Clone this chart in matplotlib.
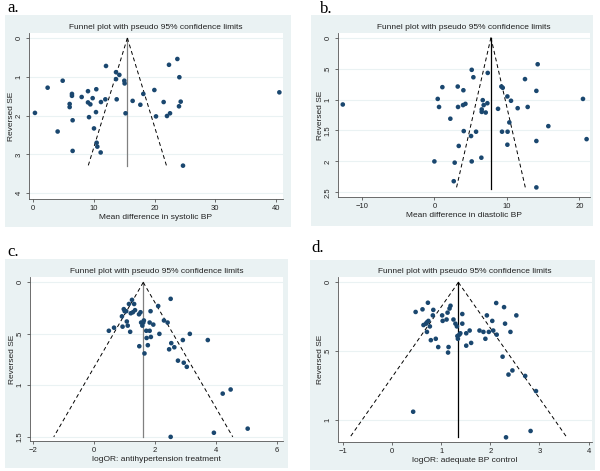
import numpy as np
import matplotlib.pyplot as plt
from matplotlib.patches import Rectangle

# panel a: mean difference in systolic BP
a_x = [0.27, 2.36, 4.84, 4.01, 5.99, 5.99, 6.37, 6.37, 6.48, 6.48, 7.97, 9.01, 9.01, 9.4,
       9.18, 9.78, 10.0, 10.38, 10.33, 10.44, 10.55, 11.15, 11.1, 11.87, 11.98, 13.63, 13.63,
       14.18, 13.74, 15.0, 15.05, 15.2, 16.37, 17.64, 18.13, 19.95, 20.22, 21.48, 22.03, 22.36,
       22.53, 23.74, 24.07, 24.01, 24.29, 24.67, 40.55]
a_se = [1.93, 1.28, 1.10, 2.41, 1.70, 1.78, 1.44, 1.49, 2.12, 2.91, 1.52, 1.37, 1.66, 1.71,
        2.04, 1.55, 2.33, 1.32, 1.91, 2.70, 2.80, 1.65, 2.95, 1.58, 0.72, 0.88, 1.06,
        0.95, 1.58, 1.10, 1.17, 1.94, 1.62, 1.72, 1.44, 1.34, 2.02, 1.65, 2.01, 0.69,
        1.94, 0.54, 1.01, 1.76, 1.64, 3.29, 1.40]

# panel b: mean difference in diastolic BP
b_x = [-12.64, 0.0, 0.46, 0.64, 1.1, 2.2, 2.67, 3.22, 3.26, 3.36, 4.0, 3.95, 4.28, 4.05, 2.8,
       5.15, 5.38, 5.06, 5.15, 5.75, 6.48, 6.53, 6.53, 6.67, 6.8, 7.08, 7.31, 7.36, 9.24, 9.43,
       9.33, 10.07, 10.1, 10.07, 10.34, 10.57, 8.78, 11.49, 12.87, 12.5, 14.07, 14.25, 14.07,
       14.07, 15.72, 20.5, 21.0]
b_se = [1.08, 2.0, 0.99, 1.12, 0.80, 1.31, 2.32, 0.79, 1.12, 1.75, 0.85, 1.09, 1.07, 1.51, 2.02,
        0.52, 0.64, 1.59, 2.0, 1.52, 1.94, 1.16, 1.20, 1.01, 1.09, 1.21, 1.06, 0.57, 0.79, 0.81,
        1.52, 0.95, 1.52, 1.73, 1.37, 1.02, 1.15, 1.14, 1.12, 0.67, 0.86, 0.43, 1.67,
        2.42, 1.43, 0.99, 1.64]

# panel c: logOR antihypertension treatment
c_x = [0.48, 0.65, 0.91, 0.93, 0.97, 1.0, 1.05, 1.07, 1.1, 1.14, 1.18, 1.2, 1.24, 1.27, 1.31,
       1.34, 1.47, 1.48, 1.52, 1.54, 1.58, 1.61, 1.63, 1.65, 1.71, 1.72, 1.76, 1.82, 1.82, 1.85,
       1.86, 1.94, 2.1, 2.14, 2.29, 2.41, 2.46, 2.51, 2.53, 2.63, 2.75, 2.91, 2.94, 3.04, 3.14,
       3.73, 4.22, 4.48, 3.93, 2.51, 5.04]
c_se = [0.47, 0.44, 0.33, 0.43, 0.26, 0.28, 0.28, 0.38, 0.42, 0.21, 0.48, 0.30, 0.17, 0.29, 0.21,
        0.27, 0.31, 0.62, 0.29, 0.39, 0.42, 0.39, 0.37, 0.69, 0.47, 0.54, 0.61, 0.47, 0.39, 0.28,
        0.53, 0.41, 0.23, 0.50, 0.37, 0.39, 0.65, 0.16, 0.59, 0.63, 0.76, 0.56, 0.78, 0.82, 0.50,
        0.56, 1.08, 1.04, 1.46, 1.50, 1.42]

# panel d: logOR adequate BP control
d_x = [0.48, 0.62, 0.73, 0.64, 0.69, 0.71, 0.71, 0.74, 0.77, 0.79, 0.83, 0.84, 0.89, 0.94, 1.02,
       1.03, 1.11, 1.13, 1.14, 1.15, 1.17, 1.19, 1.25, 1.29, 1.32, 1.33, 1.34, 1.37, 1.39, 1.43,
       1.43, 1.51, 1.51, 1.58, 1.61, 1.78, 1.86, 1.90, 1.93, 1.97, 2.04, 2.06, 2.13, 2.12, 2.28,
       2.30, 2.41, 2.53, 2.25, 2.37, 2.45, 2.71, 2.93, 0.43, 2.82, 2.32]
d_se = [0.215, 0.196, 0.148, 0.31, 0.30, 0.29, 0.36, 0.28, 0.32, 0.42, 0.24, 0.20, 0.41, 0.47, 0.24,
        0.28, 0.27, 0.22, 0.51, 0.47, 0.19, 0.17, 0.27, 0.30, 0.32, 0.39, 0.41, 0.38, 0.37, 0.23,
        0.30, 0.37, 0.46, 0.35, 0.44, 0.35, 0.36, 0.41, 0.24, 0.36, 0.28, 0.35, 0.38, 0.15, 0.18,
        0.30, 0.36, 0.24, 0.54, 0.67, 0.64, 0.68, 0.79, 0.94, 1.08, 1.126]

# pooled estimate and max SE for funnel per panel
pooled = [15.5, 7.8, 1.61, 1.35]
se_max = [3.3, 2.44, 1.5, 1.126]

xlabels = ["Mean difference in systolic BP", "Mean difference in diastolic BP",
           "logOR: antihypertension treatment", "logOR: adequate BP control"]
xticks = [[0, 10, 20, 30, 40], [-10, 0, 10, 20], [-2, 0, 2, 4, 6], [-1, 0, 1, 2, 3, 4]]
yticks = [[0, 1, 2, 3, 4], [0, 0.5, 1, 1.5, 2, 2.5], [0, 0.5, 1, 1.5], [0, 0.5, 1]]
yticklabels = [["0", "1", "2", "3", "4"], ["0", ".5", "1", "1.5", "2", "2.5"],
               ["0", ".5", "1", "1.5"], ["0", ".5", "1"]]
letters = ["a.", "b.", "c.", "d."]

xs = [a_x, b_x, c_x, d_x]
ses = [a_se, b_se, c_se, d_se]

# layout in pixels (fig 600x471): background box, axes box, limits
W, H = 600, 471
bg_px = [(5, 15, 291, 227), (311, 15, 593, 226), (5, 259, 288, 468), (310, 260, 595, 470)]
ax_px = [(29, 33, 283, 199), (338, 33, 590, 197), (30, 277, 283, 441), (338, 277, 592, 442)]
xlims = [(-0.71, 41.15), (-13.3, 21.47), (-2.11, 6.2), (-1.1, 4.07)]
ylims = [(4.15, -0.13), (2.575, -0.075), (1.54, -0.052), (1.16, -0.039)]
letter_px = [(7, 8), (320, 9), (7, 252), (311, 248)]
center_col = ['#808080', 'black', '#808080', 'black']

BG = '#eaf2f3'
NAVY = '#1a476f'

plt.rcParams['font.family'] = ['Liberation Sans', 'DejaVu Sans']

fig = plt.figure(figsize=(6, 4.71), dpi=100, facecolor='white')

for i in range(4):
    x0, y0, x1, y1 = bg_px[i]
    fig.add_artist(Rectangle((x0 / W, 1 - y1 / H), (x1 - x0) / W, (y1 - y0) / H,
                             transform=fig.transFigure, facecolor=BG, edgecolor='none',
                             zorder=-5))
    ax0, ay0, ax1, ay1 = ax_px[i]
    ax = fig.add_axes([ax0 / W, 1 - ay1 / H, (ax1 - ax0) / W, (ay1 - ay0) / H], zorder=1)
    ax.set_facecolor('white')

    p, s = pooled[i], se_max[i]
    se_line = np.array([0, s])
    ax.plot([p, p], [0, s], color=center_col[i], lw=0.9, zorder=2)
    ax.plot(p - 1.96 * se_line, se_line, color='black', lw=0.7, ls=(0, (4, 3)), zorder=2)
    ax.plot(p + 1.96 * se_line, se_line, color='black', lw=0.7, ls=(0, (4, 3)), zorder=2)
    ax.scatter(xs[i], ses[i], s=11, color=NAVY, edgecolors='none', zorder=3)

    ax.set_xlim(*xlims[i])
    ax.set_ylim(*ylims[i])
    ax.set_xticks(xticks[i])
    ax.set_yticks(yticks[i])
    ax.set_yticklabels(yticklabels[i], rotation=90, va='center')
    ax.yaxis.grid(True, color=BG, lw=0.8)
    ax.set_axisbelow(True)
    for side in ['top', 'right']:
        ax.spines[side].set_visible(False)
    for side in ['left', 'bottom']:
        ax.spines[side].set_color('#555555')
        ax.spines[side].set_linewidth(0.6)
    ax.tick_params(length=2.5, width=0.6, color='#555555', labelsize=5.5, pad=2,
                   labelcolor='#222222')
    ax.set_xlabel(xlabels[i], fontsize=6, labelpad=1, color='#222222')
    ax.set_ylabel("Reversed SE", fontsize=6, labelpad=0.5, color='#222222')
    ax.set_title("Funnel plot with pseudo 95% confidence limits", fontsize=6, pad=3,
                 color='#222222')

    lx, ly = letter_px[i]
    fig.text(lx / W, 1 - ly / H, letters[i], fontsize=12, family='Liberation Serif',
             va='center', ha='left')

fig.savefig('out.png', dpi=100)
